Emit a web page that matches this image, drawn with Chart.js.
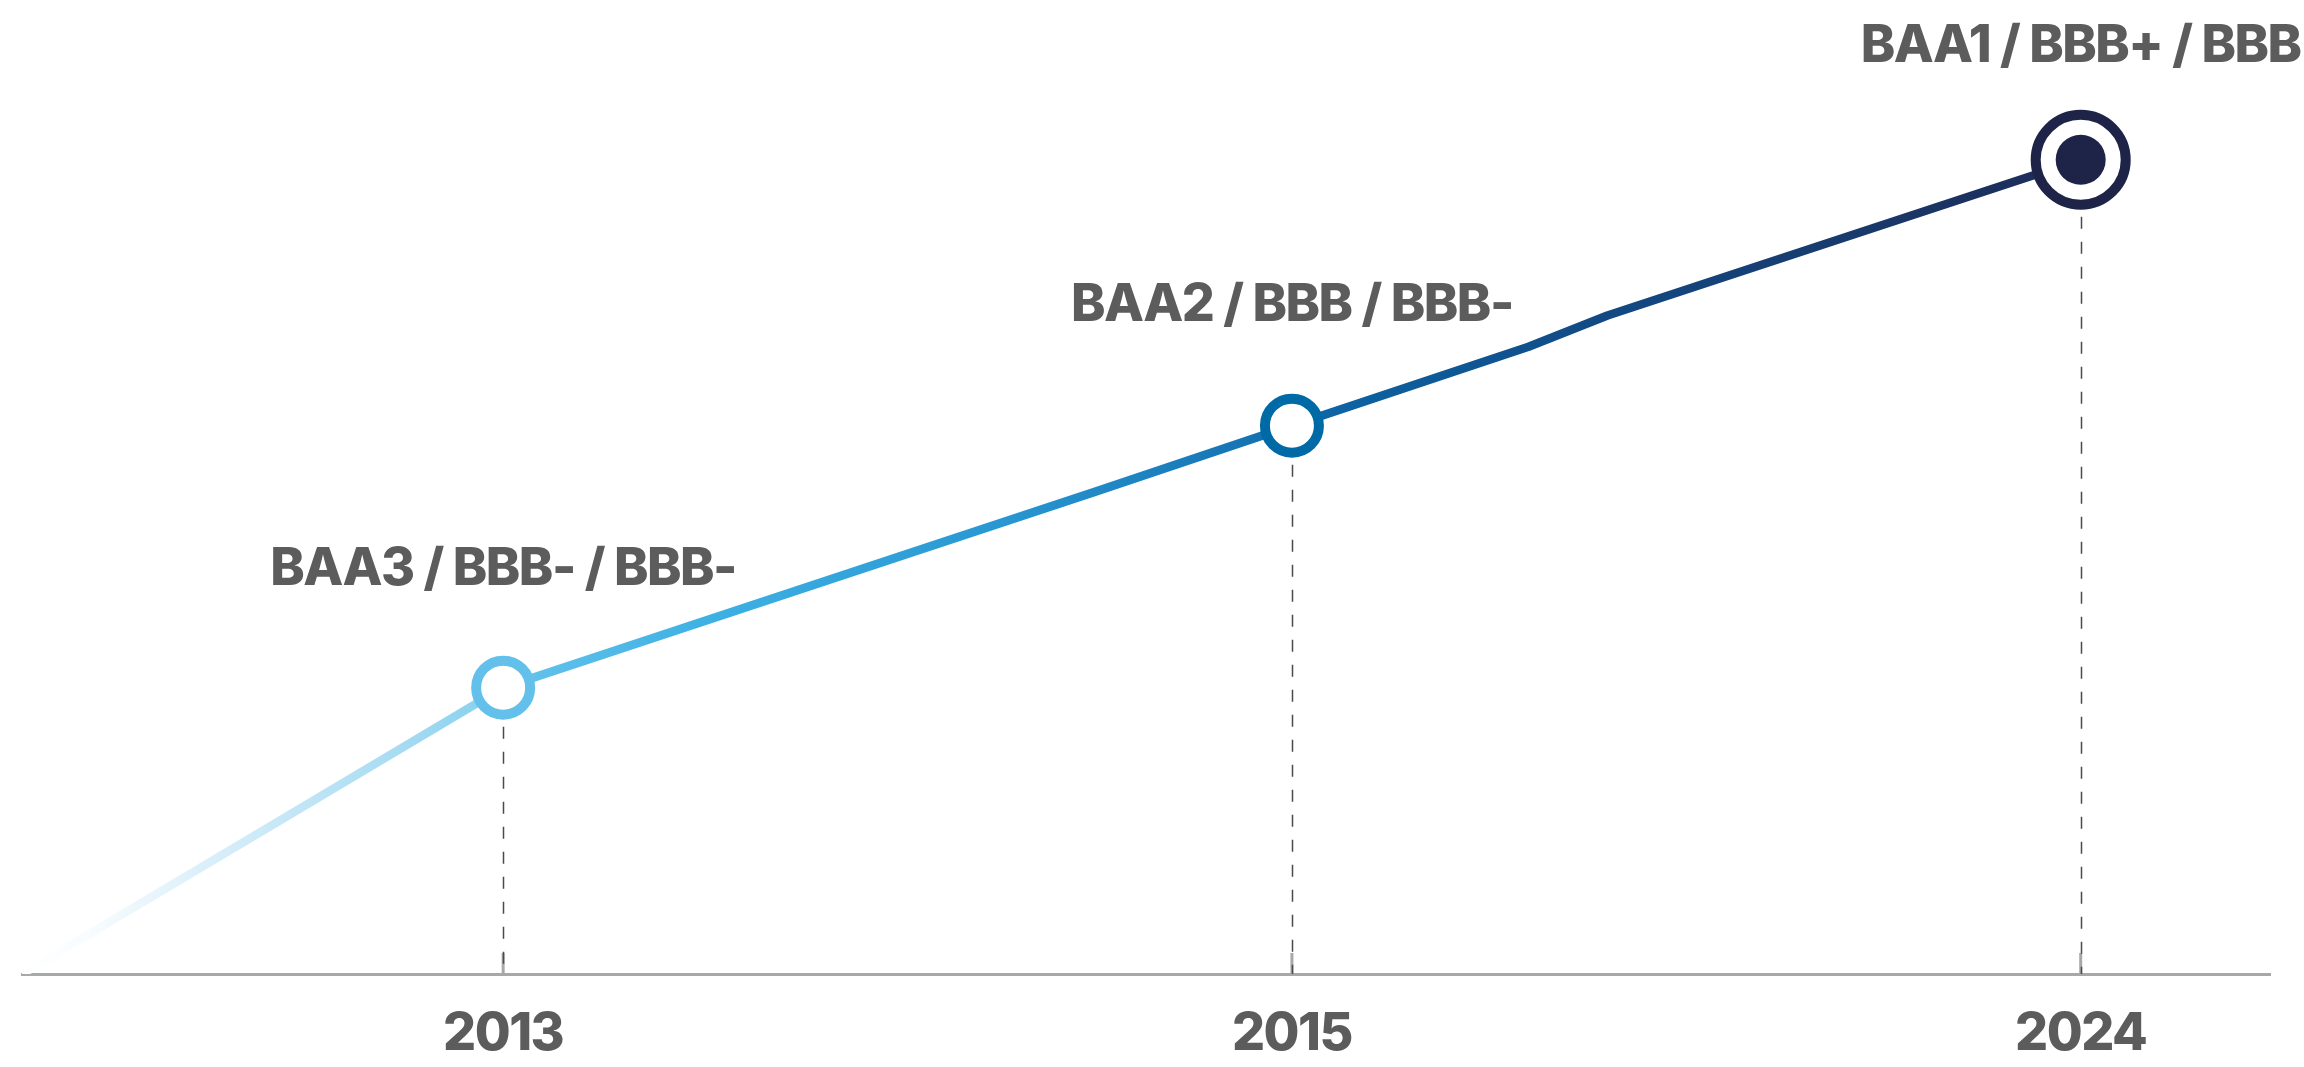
<!DOCTYPE html>
<html>
<head>
<meta charset="utf-8">
<script src="https://cdn.jsdelivr.net/npm/chart.js@4.4.1/dist/chart.umd.min.js"></script>
<style>
  html, body { margin: 0; padding: 0; background: #fff; }
  canvas { display: block; }
</style>
</head>
<body>
<canvas id="chart" width="2304" height="1067"></canvas>
<script>
// ---- DATA ----
const years = ["2013", "2015", "2024"];
const ratings = ["BAA3 / BBB- / BBB-", "BAA2 / BBB / BBB-", "BAA1 / BBB+ / BBB"];
// step position along the x axis (1 = 2013, 2 = 2015, 3 = 2024)
const stepPos = [0.39, 1, 1.75, 2, 2.30, 2.40, 3];
const ratingLevel = [0, 2.94, 4.95, 5.63, 6.44, 6.76, 8.36];
const milestoneIdx = [1, 3, 6];

// ---- STYLE ----
const ringColors = ["#62c0ea", "#006aa6", "#1e2448"];
const labelOffset = [103, 105, 98];
const textColor = "#5c5c5c";
const font = "Inter, Roboto, sans-serif";

const points = stepPos.map((x, i) => ({ x: x, y: ratingLevel[i] }));
const radius = points.map((_, i) => {
    const m = milestoneIdx.indexOf(i);
    if (m < 0) return 0;
    return m === 2 ? 45 : 27;
});
const pointBorder = points.map((_, i) => {
    const m = milestoneIdx.indexOf(i);
    return m < 0 ? "transparent" : ringColors[m];
});

function lineGradient(context) {
    const chart = context.chart;
    const area = chart.chartArea;
    if (!area) return "#2a98d3";
    const g = chart.ctx.createLinearGradient(area.left, 0, area.right, 0);
    g.addColorStop(0.00, "#ffffff");
    g.addColorStop(0.03, "#f8fcfe");
    g.addColorStop(0.10, "#d0ebf8");
    g.addColorStop(0.17, "#a5dbf2");
    g.addColorStop(0.205, "#8ad1ef");
    g.addColorStop(0.23, "#5fc0ea");
    g.addColorStop(0.30, "#3fb2e4");
    g.addColorStop(0.435, "#2897d2");
    g.addColorStop(0.545, "#1674b3");
    g.addColorStop(0.59, "#0c62a2");
    g.addColorStop(0.70, "#124a84");
    g.addColorStop(0.90, "#1d2d5a");
    g.addColorStop(1.00, "#1e2448");
    return g;
}

// dashed drop lines, inner tick marks and rating labels
const milestonePlugin = {
    id: "milestones",
    beforeDraw(chart) {
        chart.ctx.letterSpacing = "-1.5px";
    },
    beforeDatasetsDraw(chart) {
        const ctx = chart.ctx;
        const area = chart.chartArea;
        const xScale = chart.scales.x;
        const meta = chart.getDatasetMeta(1);
        ctx.save();
        // tick marks pointing up from the axis
        ctx.strokeStyle = "#a8a8a8";
        ctx.lineWidth = 3;
        years.forEach((_, i) => {
            const x = xScale.getPixelForValue(i + 1);
            ctx.beginPath();
            ctx.moveTo(x, area.bottom - 21);
            ctx.lineTo(x, area.bottom);
            ctx.stroke();
        });
        // dashed drop lines
        ctx.strokeStyle = "#4a4a4a";
        ctx.lineWidth = 1.5;
        ctx.setLineDash([12, 13]);
        milestoneIdx.forEach(idx => {
            const pt = meta.data[idx];
            const x = Math.round(pt.x) + 0.5;
            ctx.beginPath();
            ctx.moveTo(x, pt.y + radius[idx] + 12);
            ctx.lineTo(x, area.bottom);
            ctx.stroke();
        });
        ctx.restore();
    },
    afterDatasetsDraw(chart) {
        const ctx = chart.ctx;
        const meta = chart.getDatasetMeta(1);
        ctx.save();
        ctx.font = "800 52px " + font;
        ctx.fillStyle = textColor;
        ctx.textAlign = "center";
        ctx.textBaseline = "alphabetic";
        milestoneIdx.forEach((idx, m) => {
            const pt = meta.data[idx];
            ctx.fillText(ratings[m], pt.x, pt.y - labelOffset[m]);
        });
        ctx.restore();
    }
};

function draw() {
    new Chart(document.getElementById("chart"), {
        type: "line",
        data: {
            datasets: [
                {
                    // filled centre of the latest rating
                    label: "Current",
                    data: [points[6]],
                    pointRadius: 25,
                    pointBorderWidth: 0,
                    pointBackgroundColor: ringColors[2],
                    showLine: false
                },
                {
                    label: "Rating",
                    data: points,
                    borderColor: lineGradient,
                    borderWidth: 8.5,
                    borderCapStyle: "butt",
                    borderJoinStyle: "round",
                    tension: 0,
                    pointRadius: radius,
                    pointBorderWidth: 10,
                    pointBorderColor: pointBorder,
                    pointBackgroundColor: "#ffffff"
                }
            ]
        },
        options: {
            responsive: false,
            animation: false,
            layout: { autoPadding: false, padding: { left: 22, right: 34, top: 0, bottom: 0 } },
            plugins: { legend: { display: false }, tooltip: { enabled: false } },
            scales: {
                x: {
                    type: "linear",
                    min: 0.39,
                    max: 3.24,
                    afterBuildTicks: scale => {
                        scale.ticks = years.map((_, i) => ({ value: i + 1 }));
                    },
                    afterFit: scale => { scale.height = 93; },
                    grid: { display: true, drawOnChartArea: false, drawTicks: false },
                    border: { display: true, color: "#a8a8a8", width: 3 },
                    ticks: {
                        autoSkip: false,
                        maxRotation: 0,
                        padding: 29,
                        color: textColor,
                        font: { family: font, weight: 800, size: 52 },
                        callback: (v, i) => years[i]
                    }
                },
                y: {
                    display: false,
                    min: 0,
                    max: 10
                }
            }
        },
        plugins: [milestonePlugin]
    });
}

if (document.fonts && document.fonts.load) {
    document.fonts.load("800 52px Inter").then(draw, draw);
} else {
    draw();
}
</script>
</body>
</html>
